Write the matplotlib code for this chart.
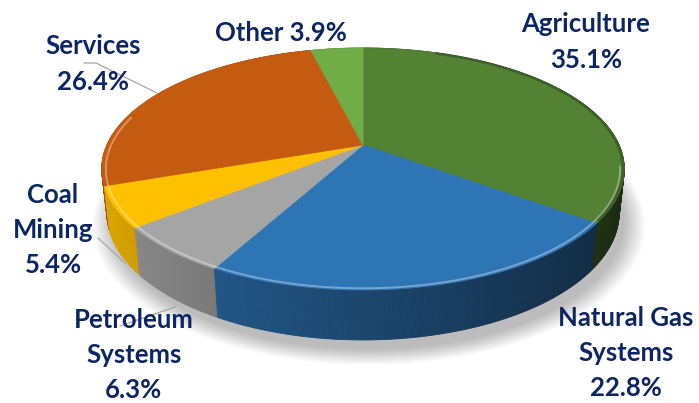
import matplotlib.pyplot as plt
import numpy as np
from matplotlib.collections import PolyCollection
from matplotlib.colors import to_rgb

# Emission shares by source (%), clockwise from 12 o'clock
sectors = ["Agriculture", "Natural Gas Systems", "Petroleum Systems",
           "Coal Mining", "Services", "Other"]
shares = [35.1, 22.8, 6.3, 5.4, 26.4, 3.9]
label_text = ["Agriculture\n35.1%", "Natural Gas\nSystems\n22.8%",
              "Petroleum\nSystems\n6.3%", "Coal\nMining\n5.4%",
              "Services\n26.4%", "Other 3.9%"]
colors = ["#548235", "#2E75B6", "#A5A5A5", "#FFC000", "#C55A11", "#70AD47"]

# label anchor points (pixels) and leader lines
label_pos = [(586, 42), (626, 353), (134, 355), (53, 230), (93, 64), (281, 33)]
leaders = {2: [(120, 326), (175, 307)],
           3: [(98, 238), (125, 263)],
           4: [(84, 63), (96, 63), (157, 93)]}

TEXT_COLOR = "#0B2565"
W, H = 699, 403

# simple perspective camera looking down on a flat disk
cx, cy = 363, 145
alpha = np.radians(27)
sin_a, cos_a = np.sin(alpha), np.cos(alpha)
D = 5.04 * cos_a
f = 97 * (D + cos_a) / sin_a
depth_h = 0.192


def project(theta, r=1.0, z=0.0):
    t = np.radians(theta)
    u = r * np.sin(t)
    v = -r * np.cos(t)
    d = D - v * cos_a - z * sin_a
    X = cx + f * u / d
    Y = cy - f * (-v * sin_a + z * cos_a) / d
    return X, Y, d


fig = plt.figure(figsize=(W / 100, H / 100), dpi=100)
ax = fig.add_axes([0, 0, 1, 1])
ax.set_xlim(0, W)
ax.set_ylim(H, 0)
ax.axis("off")

total = sum(shares)
bounds = np.concatenate([[0], np.cumsum(shares) / total * 360])

# soft drop shadow below the disk
for i in range(14):
    r = 1.0 + 0.006 * i
    th = np.linspace(0, 360, 361)
    X, Y, _ = project(th, r, -depth_h - 0.03)
    ax.fill(X + 6, Y + 2, color="black", alpha=0.018, lw=0, zorder=0)

# side walls, shaded from lit left to dark right
quads, qcols, qdepth = [], [], []
for i, c in enumerate(colors):
    base = np.array(to_rgb(c))
    th = np.linspace(bounds[i], bounds[i + 1],
                     max(4, int((bounds[i + 1] - bounds[i]) / 0.5)))
    for a0, a1 in zip(th[:-1], th[1:]):
        x0, y0, d0 = project(a0)
        x1, y1, d1 = project(a1)
        x2, y2, _ = project(a1, 1.0, -depth_h)
        x3, y3, _ = project(a0, 1.0, -depth_h)
        um = np.sin(np.radians((a0 + a1) / 2))
        k = 0.60 - 0.28 * um
        quads.append([(x0, y0), (x1, y1), (x2, y2), (x3, y3)])
        qcols.append(np.clip(base * k, 0, 1))
        qdepth.append((d0 + d1) / 2)
order = np.argsort(qdepth)[::-1]
walls = PolyCollection([quads[j] for j in order],
                       facecolors=[qcols[j] for j in order],
                       edgecolors=[qcols[j] for j in order],
                       linewidths=0.6, zorder=2)
ax.add_collection(walls)

# top faces
for i, c in enumerate(colors):
    th = np.linspace(bounds[i], bounds[i + 1],
                     max(4, int((bounds[i + 1] - bounds[i]) / 0.5)))
    X, Y, _ = project(th)
    xs = np.concatenate([[cx], X])
    ys = np.concatenate([[cy], Y])
    ax.fill(xs, ys, color=c, lw=0.6, ec=c, zorder=3)

# bevel highlight along the front rim
th = np.linspace(100, 285, 300)
X, Y, _ = project(th, 0.985, 0)
ax.plot(X, Y + 1, color="white", alpha=0.35, lw=1.4, zorder=4,
        solid_capstyle="round")
# darker edge on the right-hand rim
th = np.linspace(20, 125, 200)
X, Y, _ = project(th, 0.995, 0)
ax.plot(X, Y, color="black", alpha=0.25, lw=2.0, zorder=4)

# leader lines
for pts in leaders.values():
    xs, ys = zip(*pts)
    ax.plot(xs, ys, color="#A6A6A6", lw=0.9, zorder=1)

for (x, y), txt in zip(label_pos, label_text):
    ax.text(x, y, txt, ha="center", va="center", color=TEXT_COLOR,
            fontsize=18.5, fontweight="bold", family="Lato",
            linespacing=1.55, zorder=5)

fig.savefig("out.png", dpi=100)
